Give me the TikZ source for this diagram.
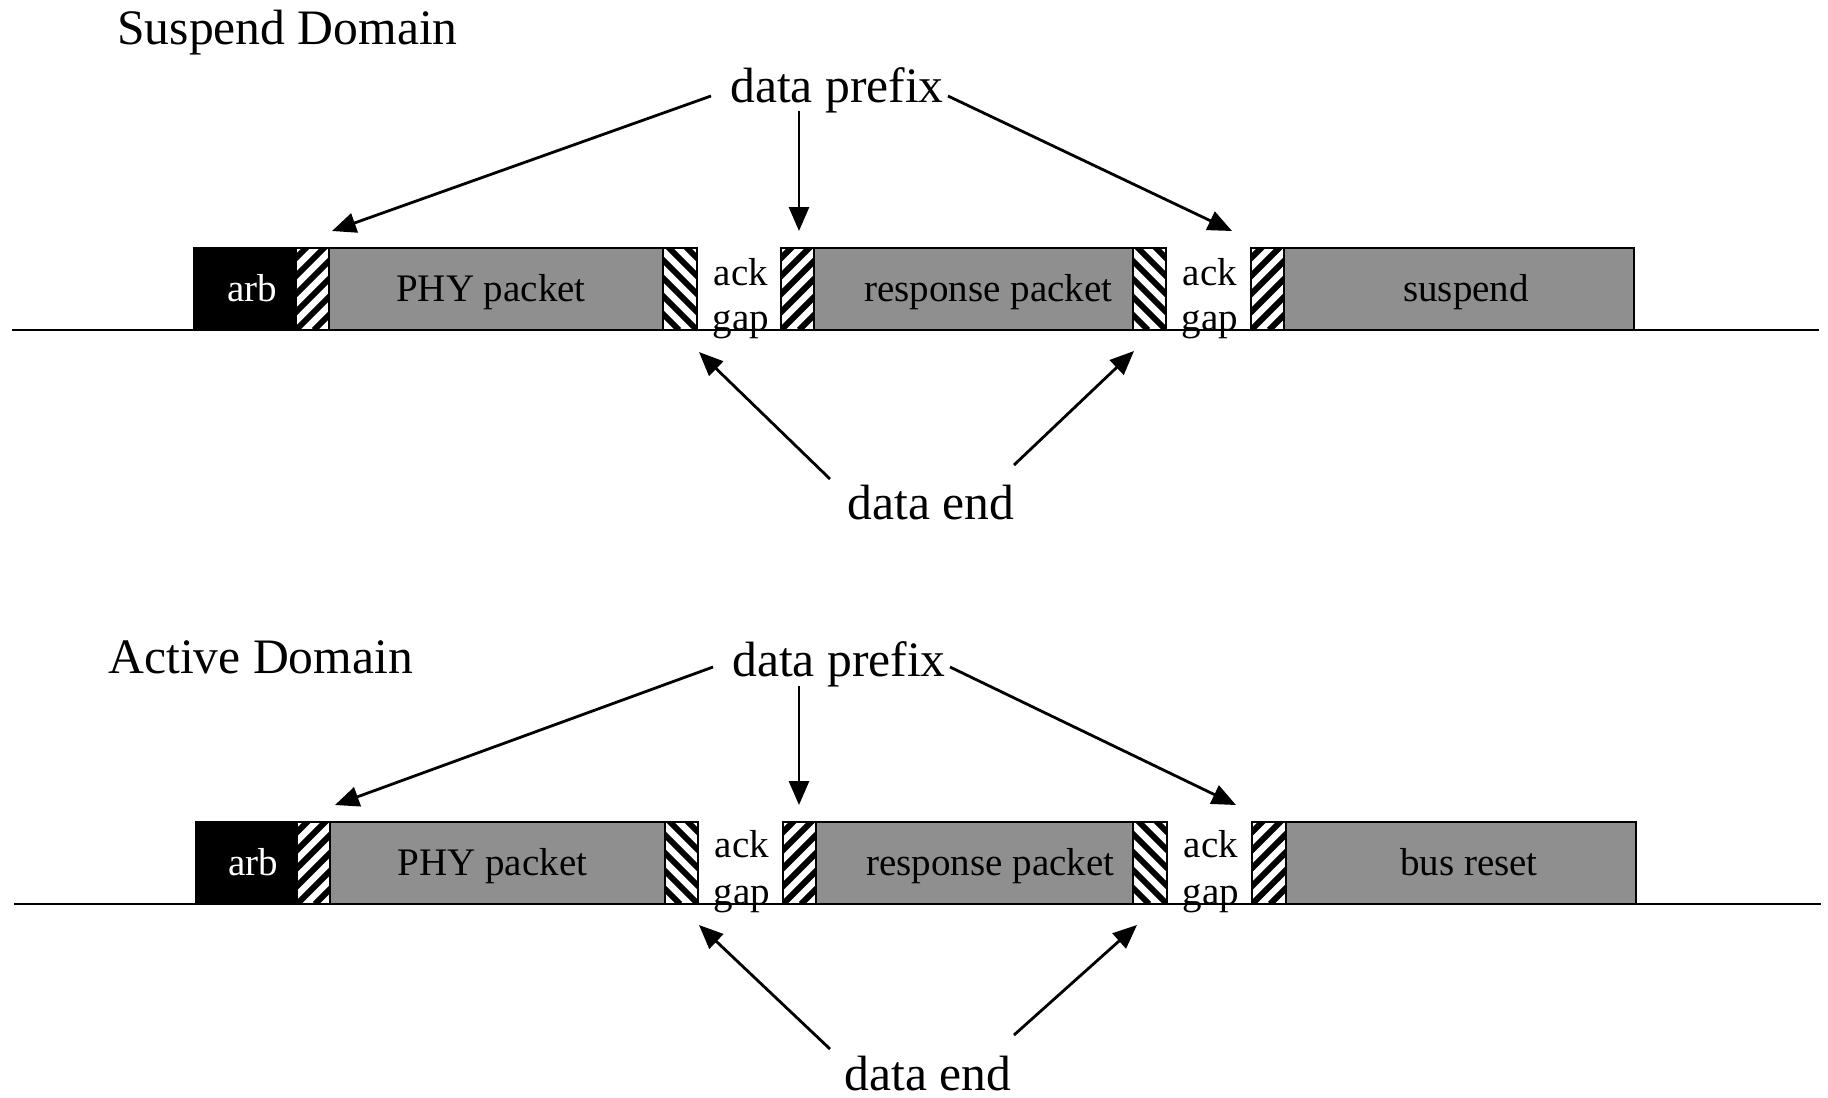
\documentclass[tikz,border=0pt]{standalone}
\usepackage{fontspec}
\setmainfont{Liberation Serif}
\usetikzlibrary{arrows.meta}
\definecolor{pktgray}{RGB}{143,143,143}
\tikzset{
  seg/.style={draw, line width=1pt, inner sep=0pt, outer sep=0pt,
    font=\fontsize{19.5}{22}\selectfont, text height=13pt, text depth=1pt},
  pkt/.style={seg, fill=pktgray},
  arbbox/.style={seg, fill=black, text=white},
  hatchR/.style={seg, fill=white, path picture={
    \foreach \k in {-6,...,3}{\draw[line width=3pt] ([xshift=\k*9pt]path picture bounding box.south west) -- ++(45:70pt);}}},
  hatchL/.style={seg, fill=white, path picture={
    \foreach \k in {-3,...,6}{\draw[line width=3pt] ([xshift=\k*9pt]path picture bounding box.south east) -- ++(135:70pt);}}},
  lbl/.style={font=\fontsize{24.8}{28}\selectfont, inner sep=0pt, anchor=base},
  smalllbl/.style={font=\fontsize{19.5}{22}\selectfont, inner sep=0pt, anchor=base},
  arr/.style={-{Triangle[length=12pt,width=10pt]}, line width=1.4pt},
  wire/.style={line width=1.3pt}
}
\newcommand\segnode[6]{%
  \pgfmathsetmacro\segw{(#4-#3)*0.5}%
  \node[#1, minimum width=\segw pt, minimum height=41pt, anchor=north west] (#2) at (#3,#5) {#6};%
}
\begin{document}
\begin{tikzpicture}[x=0.5pt,y=-0.5pt]
\useasboundingbox (0,0) rectangle (1828,1098);

% ---------- Suspend domain ----------
\node[lbl, anchor=base west] (sd) at (117,44) {Suspend Domain};
\coordinate (w1a) at (12,330);
\coordinate (w1b) at (1819,330);
\draw[wire] (w1a) -- (w1b);
\segnode{arbbox}{a1}{194}{296}{248}{\hspace*{7pt}arb}
\segnode{hatchR}{h11}{296}{329}{248}{}
\segnode{pkt}{p1}{329}{663}{248}{PHY packet\hspace*{5pt}}
\segnode{hatchL}{h12}{663}{697}{248}{}
\node[smalllbl] (ack11) at (741,285) {ack};
\node[smalllbl] (gap11) at (741,330) {gap};
\segnode{hatchR}{h13}{781}{814}{248}{}
\segnode{pkt}{r1}{814}{1133}{248}{\hspace*{15pt}response packet}
\segnode{hatchL}{h14}{1133}{1166}{248}{}
\node[smalllbl] (ack12) at (1210,285) {ack};
\node[smalllbl] (gap12) at (1210,330) {gap};
\segnode{hatchR}{h15}{1251}{1284}{248}{}
\segnode{pkt}{s1}{1284}{1634}{248}{\hspace*{7pt}suspend}

\node[lbl] (dp1) at (837,102) {data prefix};
\node[lbl] (de1) at (931,519) {data end};

\coordinate (dp1l) at (711,96);
\coordinate (dp1m) at (799,111);
\coordinate (dp1r) at (948,96);
\coordinate (t11) at (332,231);
\coordinate (t12) at (799,231);
\coordinate (t13) at (1232,231);
\draw[arr] (dp1l) -- (t11);
\draw[arr] (dp1m) -- (t12);
\draw[arr] (dp1r) -- (t13);
\coordinate (de1l) at (830,479);
\coordinate (de1r) at (1014,465);
\coordinate (e11) at (699,352);
\coordinate (e12) at (1134,351);
\draw[arr] (de1l) -- (e11);
\draw[arr] (de1r) -- (e12);

% ---------- Active domain ----------
\node[lbl, anchor=base west] (ad) at (108,673) {Active Domain};
\coordinate (w2a) at (14,904);
\coordinate (w2b) at (1821,904);
\draw[wire] (w2a) -- (w2b);
\segnode{arbbox}{a2}{196}{297}{822}{\hspace*{7pt}arb}
\segnode{hatchR}{h21}{297}{330}{822}{}
\segnode{pkt}{p2}{330}{665}{822}{PHY packet\hspace*{5pt}}
\segnode{hatchL}{h22}{665}{698}{822}{}
\node[smalllbl] (ack21) at (742,857) {ack};
\node[smalllbl] (gap21) at (742,904) {gap};
\segnode{hatchR}{h23}{783}{816}{822}{}
\segnode{pkt}{r2}{816}{1133}{822}{\hspace*{16pt}response packet}
\segnode{hatchL}{h24}{1133}{1167}{822}{}
\node[smalllbl] (ack22) at (1211,857) {ack};
\node[smalllbl] (gap22) at (1211,904) {gap};
\segnode{hatchR}{h25}{1252}{1286}{822}{}
\segnode{pkt}{s2}{1286}{1636}{822}{\hspace*{8pt}bus reset}

\node[lbl] (dp2) at (839,676) {data prefix};
\node[lbl] (de2) at (928,1090) {data end};

\coordinate (dp2l) at (713,667);
\coordinate (dp2m) at (799,686);
\coordinate (dp2r) at (950,667);
\coordinate (t21) at (335,805);
\coordinate (t22) at (799,805);
\coordinate (t23) at (1236,805);
\draw[arr] (dp2l) -- (t21);
\draw[arr] (dp2m) -- (t22);
\draw[arr] (dp2r) -- (t23);
\coordinate (de2l) at (830,1049);
\coordinate (de2r) at (1014,1035);
\coordinate (e21) at (699,925);
\coordinate (e22) at (1137,925);
\draw[arr] (de2l) -- (e21);
\draw[arr] (de2r) -- (e22);
\end{tikzpicture}
\end{document}
